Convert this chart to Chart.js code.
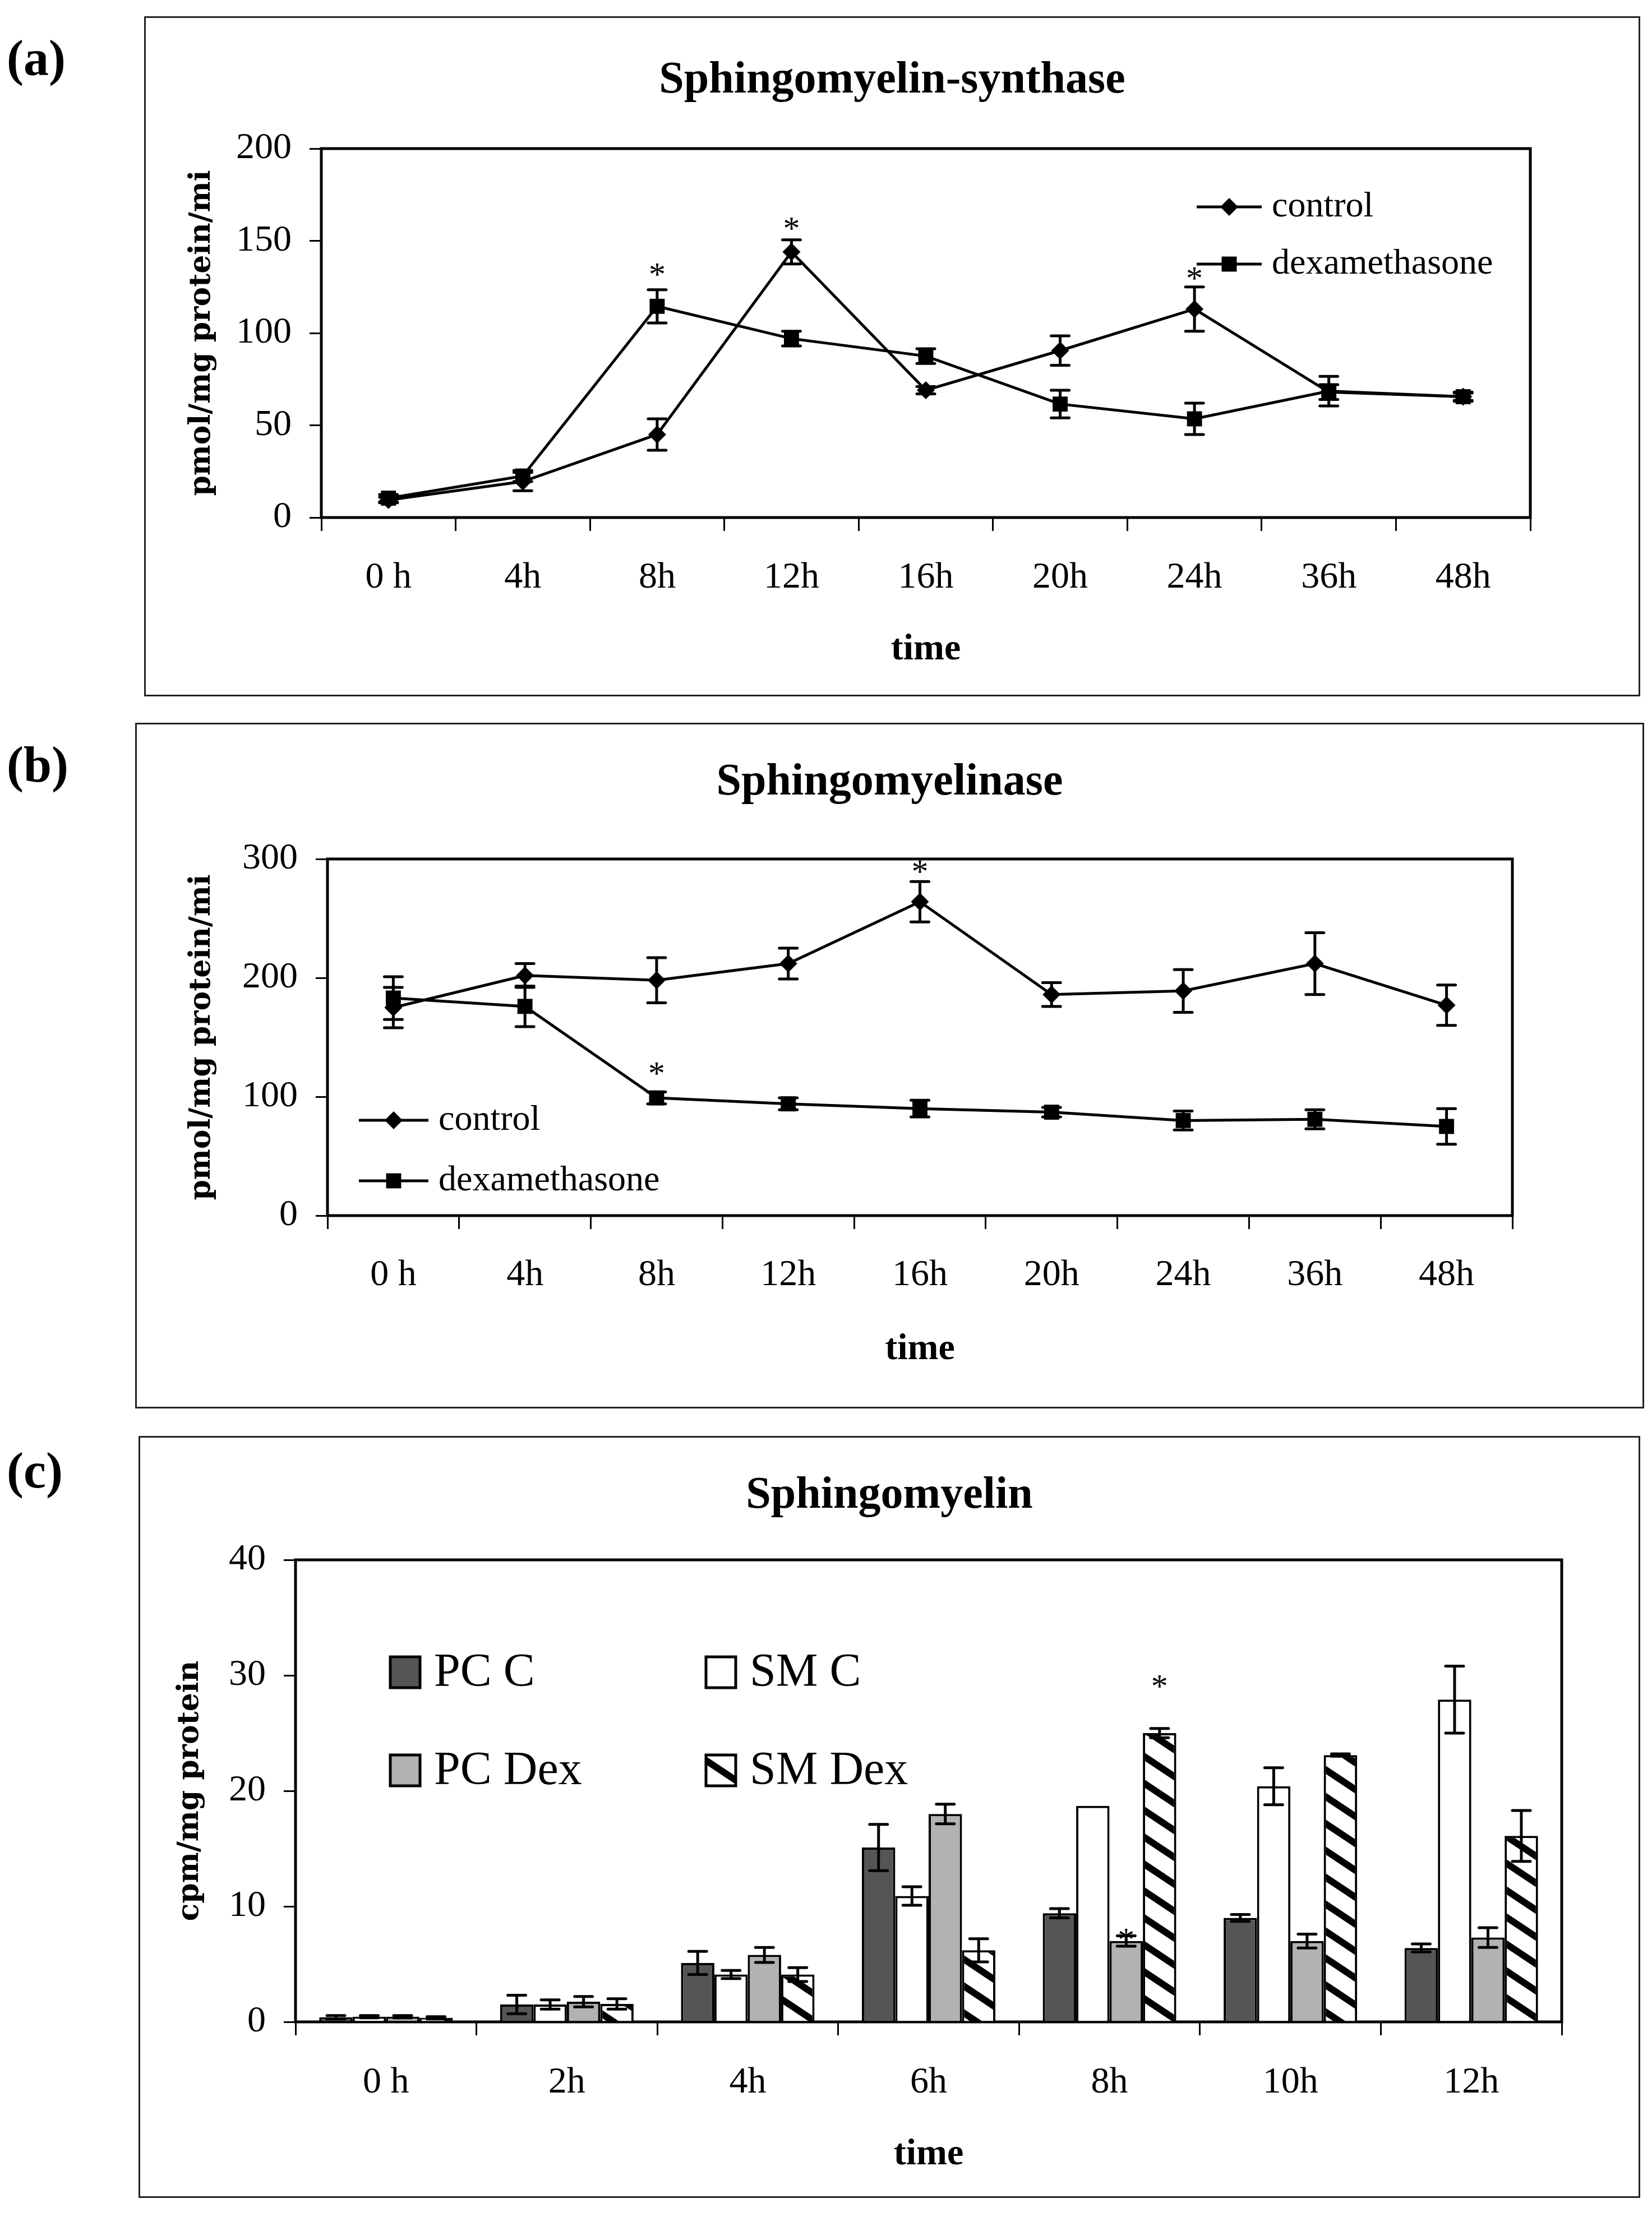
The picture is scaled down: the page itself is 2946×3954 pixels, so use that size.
<!DOCTYPE html>
<html>
<head>
<meta charset="utf-8">
<script src="https://cdn.jsdelivr.net/npm/chart.js@4.4.1/dist/chart.umd.min.js"></script>
<style>
  html, body { margin: 0; padding: 0; background: #fff; }
  body { position: relative; width: 2946px; height: 3954px; overflow: hidden; }
  .frame { position: absolute; border: 3px solid #222; box-sizing: border-box; }
  .frame canvas { position: absolute; left: -3px; top: -3px; }
  .tag { position: absolute; left: 12px; font: bold 90px/1 "Liberation Serif", serif; color: #000; }
</style>
</head>
<body>
<div class="tag" style="top:59px">(a)</div>
<div class="tag" style="top:1319px">(b)</div>
<div class="tag" style="top:2578px">(c)</div>

<div class="frame" style="left:257px;top:29px;width:2668px;height:1213px">
  <canvas id="chartA" width="2668" height="1213"></canvas>
</div>
<div class="frame" style="left:241px;top:1289px;width:2691px;height:1223px">
  <canvas id="chartB" width="2691" height="1223"></canvas>
</div>
<div class="frame" style="left:247px;top:2561px;width:2678px;height:1359px">
  <canvas id="chartC" width="2678" height="1359"></canvas>
</div>

<script>
// (a) sphingomyelin-synthase, pmol/mg protein/min
const hoursLong = ['0 h', '4h', '8h', '12h', '16h', '20h', '24h', '36h', '48h']
const synthControl = [9.5, 19.5, 45, 144, 69, 90.5, 113, 68, 65.5]
const synthControlErr = [1.5, 5, 8.5, 6.5, 2, 8, 12, 4, 2]
const synthDex = [10.5, 22.5, 114.5, 97, 87.5, 61.5, 53.5, 68.5, 65.5]
const synthDexErr = [2, 3, 9, 4, 4, 7.5, 8.5, 8, 2.5]
const synthTicks = [0, 50, 100, 150, 200]
const synthStarCats = ['8h', '12h', '24h']
const synthStarVals = [134, 159, 132]

// (b) sphingomyelinase
const aseControl = [175, 202, 198, 212, 264, 186, 189, 212, 177]
const aseControlErr = [17, 10, 19, 13, 17, 10, 18, 26, 17]
const aseDex = [183, 176, 99, 94, 90, 87, 80, 81, 75]
const aseDexErr = [18, 17, 5, 5, 7, 4, 8, 8, 15]
const aseTicks = [0, 100, 200, 300]
const aseStarCats = ['16h', '8h']
const aseStarVals = [293, 123]

// (c) sphingomyelin, cpm/mg protein
const hoursShort = ['0 h', '2h', '4h', '6h', '8h', '10h', '12h']
const pcC = [0.4, 1.5, 5.1, 15.1, 9.4, 9.0, 6.4]
const pcCErr = [0.15, 0.8, 1.0, 2.0, 0.4, 0.3, 0.35]
const smC = [0.45, 1.5, 4.1, 10.9, 18.7, 20.4, 27.9]
const smCErr = [0.1, 0.4, 0.35, 0.8, 0, 1.6, 2.9]
const pcDex = [0.45, 1.75, 5.8, 18.0, 7.0, 7.0, 7.3]
const pcDexErr = [0.1, 0.45, 0.65, 0.85, 0.45, 0.6, 0.85]
const smDex = [0.35, 1.55, 4.1, 6.2, 25.0, 23.1, 16.1]
const smDexErr = [0.1, 0.45, 0.6, 1.0, 0.4, 0.1, 2.2]
const smTicks = [0, 10, 20, 30, 40]
const smStarCats = ['8h', '8h']
const smStarSets = [3, 2]
const smStarVals = [29.4, 7.5]

const SERIF = '"Liberation Serif", "Times New Roman", serif'
const WIDE = '"DejaVu Serif", serif'

// box around the plot area
const plotFrame = {
  id: 'plotFrame',
  beforeDatasetsDraw(chart) {
    const { ctx, chartArea: a } = chart
    ctx.save()
    ctx.strokeStyle = '#000'
    ctx.lineWidth = 5
    ctx.strokeRect(a.left, a.top, a.right - a.left, a.bottom - a.top)
    ctx.restore()
  }
}

const errorBars = {
  id: 'errorBars',
  afterDatasetsDraw(chart) {
    const { ctx } = chart
    const y = chart.scales.y
    ctx.save()
    ctx.strokeStyle = '#000'
    ctx.lineWidth = 5
    ctx.lineCap = 'round'
    chart.data.datasets.forEach((ds, i) => {
      if (!ds.errors) return
      chart.getDatasetMeta(i).data.forEach((el, j) => {
        const e = ds.errors[j]
        if (!e) return
        const v = ds.data[j]
        const top = y.getPixelForValue(v + e)
        const bot = y.getPixelForValue(Math.max(0, v - e))
        ctx.beginPath()
        ctx.moveTo(el.x, top); ctx.lineTo(el.x, bot)
        ctx.moveTo(el.x - 16, top); ctx.lineTo(el.x + 16, top)
        ctx.moveTo(el.x - 16, bot); ctx.lineTo(el.x + 16, bot)
        ctx.stroke()
      })
    })
    ctx.restore()
  }
}

// significance asterisks
const stars = {
  id: 'stars',
  afterDatasetsDraw(chart, args, opts) {
    if (!opts.cats) return
    const { ctx } = chart
    const x = chart.scales.x, y = chart.scales.y
    ctx.save()
    ctx.fillStyle = '#000'
    ctx.font = '60px ' + SERIF
    ctx.textAlign = 'center'
    ctx.textBaseline = 'alphabetic'
    opts.cats.forEach((c, k) => {
      const idx = chart.data.labels.indexOf(c)
      let px = x.getPixelForValue(idx)
      if (opts.sets) px = chart.getDatasetMeta(opts.sets[k]).data[idx].x
      const py = y.getPixelForValue(opts.values[k])
      ctx.fillText('*', px, py + 27)
    })
    ctx.restore()
  }
}

const keyLegend = {
  id: 'keyLegend',
  afterDraw(chart, args, opts) {
    if (!opts.items) return
    const { ctx } = chart
    ctx.save()
    ctx.textBaseline = 'middle'
    ctx.textAlign = 'left'
    opts.items.forEach(it => {
      const ds = chart.data.datasets[it.dataset]
      if (it.swatch) {
        ctx.fillStyle = ds.backgroundColor
        ctx.fillRect(it.x, it.y, 53, 55)
        ctx.strokeStyle = '#000'
        ctx.lineWidth = 5
        ctx.strokeRect(it.x, it.y, 53, 55)
        ctx.fillStyle = '#000'
        ctx.font = '84px ' + SERIF
        ctx.fillText(ds.label, it.x + 78, it.y + 30)
      } else {
        ctx.strokeStyle = '#000'
        ctx.lineWidth = 5
        ctx.beginPath()
        ctx.moveTo(it.x1, it.y); ctx.lineTo(it.x2, it.y)
        ctx.stroke()
        ctx.fillStyle = '#000'
        Chart.helpers.drawPoint(ctx, {
          pointStyle: ds.pointStyle, radius: ds.pointRadius, rotation: 0, borderWidth: 0
        }, (it.x1 + it.x2) / 2, it.y)
        ctx.fillStyle = '#000'
        ctx.font = '64px ' + SERIF
        ctx.fillText(ds.label, it.x2 + 18, it.y)
      }
    })
    ctx.restore()
  }
}

function axes(p) {
  return {
    x: {
      offset: true,
      grid: { display: true, offset: true, drawOnChartArea: false, drawTicks: true, tickLength: 24, color: '#000', lineWidth: 3 },
      border: { display: false },
      ticks: { color: '#000', padding: p.xPad, maxRotation: 0, autoSkip: false, font: { family: SERIF, size: 66 } },
      title: { display: true, text: 'time', color: '#000', font: { family: SERIF, size: 66, weight: 'bold' }, padding: { top: 0, bottom: p.xTitlePad } },
      afterFit: s => { s.height = p.xH }
    },
    y: {
      min: p.ticks[0],
      max: p.ticks[p.ticks.length - 1],
      afterBuildTicks: s => { s.ticks = p.ticks.map(v => ({ value: v })) },
      grid: { display: true, drawOnChartArea: false, drawTicks: true, tickLength: 21, color: '#000', lineWidth: 3 },
      border: { display: false },
      ticks: { color: '#000', padding: 32, font: { family: SERIF, size: 66 } },
      title: { display: true, text: p.yTitle, color: '#000', font: { family: WIDE, size: 52, weight: 'bold' }, padding: { top: p.yTitlePad, bottom: 0 } },
      afterFit: s => { s.width = p.yW }
    },
    // empty right margin, so the title stays centred on the whole panel
    yRight: {
      type: 'linear',
      position: 'right',
      grid: { display: false },
      ticks: { display: false },
      border: { display: false },
      afterFit: s => { s.width = p.padR }
    }
  }
}

function lineSet(label, data, errors, style, radius) {
  return {
    label, data, errors,
    borderColor: '#000', backgroundColor: '#000', borderWidth: 5,
    pointStyle: style, pointRadius: radius, pointBackgroundColor: '#000',
    pointBorderWidth: 0, tension: 0, fill: false
  }
}

function baseOptions(p) {
  return {
    responsive: false,
    animation: false,
    devicePixelRatio: 1,
    layout: { padding: 0 },
    scales: axes(p),
    plugins: {
      legend: { display: false },
      tooltip: { enabled: false },
      title: {
        display: true, text: p.title, color: '#000',
        font: { family: SERIF, size: 80, weight: 'bold' },
        padding: { top: p.tTop, bottom: p.tBottom }
      },
      stars: p.stars,
      keyLegend: { items: p.legend }
    }
  }
}

const plugins = [plotFrame, errorBars, stars, keyLegend]

new Chart(document.getElementById('chartA'), {
  type: 'line',
  data: {
    labels: hoursLong,
    datasets: [
      lineSet('control', synthControl, synthControlErr, 'rectRot', 16),
      lineSet('dexamethasone', synthDex, synthDexErr, 'rect', 19)
    ]
  },
  options: baseOptions({
    title: 'Sphingomyelin-synthase', tTop: 67, tBottom: 73, padR: 196,
    yW: 316, yTitlePad: 72, yTitle: 'pmol/mg protein/mi', ticks: synthTicks,
    xH: 319, xPad: 44, xTitlePad: 43,
    stars: { cats: synthStarCats, values: synthStarVals },
    legend: [
      { dataset: 0, x1: 1877, x2: 1993, y: 340 },
      { dataset: 1, x1: 1877, x2: 1993, y: 442 }
    ]
  }),
  plugins
})

new Chart(document.getElementById('chartB'), {
  type: 'line',
  data: {
    labels: hoursLong,
    datasets: [
      lineSet('control', aseControl, aseControlErr, 'rectRot', 16),
      lineSet('dexamethasone', aseDex, aseDexErr, 'rect', 19)
    ]
  },
  options: baseOptions({
    title: 'Sphingomyelinase', tTop: 59, tBottom: 88, padR: 235,
    yW: 343, yTitlePad: 88, yTitle: 'pmol/mg protein/mi', ticks: aseTicks,
    xH: 344, xPad: 43, xTitlePad: 65,
    stars: { cats: aseStarCats, values: aseStarVals },
    legend: [
      { dataset: 0, x1: 399, x2: 523, y: 709 },
      { dataset: 1, x1: 399, x2: 523, y: 817 }
    ]
  }),
  plugins
})

// diagonal hatch for SM Dex
function hatch() {
  const c = document.createElement('canvas')
  c.width = 72
  c.height = 48
  const g = c.getContext('2d')
  g.fillStyle = '#fff'
  g.fillRect(0, 0, 72, 48)
  g.strokeStyle = '#000'
  g.lineWidth = 12
  g.beginPath()
  for (let k = -2; k <= 2; k++) {
    g.moveTo(-20, k * 48 - 20 * 48 / 72)
    g.lineTo(92, k * 48 + 92 * 48 / 72)
  }
  g.stroke()
  return document.getElementById('chartC').getContext('2d').createPattern(c, 'repeat')
}

function barSet(label, data, errors, fill) {
  return {
    label, data, errors,
    backgroundColor: fill, borderColor: '#000', borderWidth: 4,
    categoryPercentage: 0.738, barPercentage: 1.0
  }
}

new Chart(document.getElementById('chartC'), {
  type: 'bar',
  data: {
    labels: hoursShort,
    datasets: [
      barSet('PC C', pcC, pcCErr, '#555555'),
      barSet('SM C', smC, smCErr, '#ffffff'),
      barSet('PC Dex', pcDex, pcDexErr, '#b2b2b2'),
      barSet('SM Dex', smDex, smDexErr, hatch())
    ]
  },
  options: baseOptions({
    title: 'Sphingomyelin', tTop: 59, tBottom: 66, padR: 140,
    yW: 280, yTitlePad: 61, yTitle: 'cpm/mg protein', ticks: smTicks,
    xH: 314, xPad: 45, xTitlePad: 37,
    stars: { cats: smStarCats, sets: smStarSets, values: smStarVals },
    legend: [
      { dataset: 0, swatch: true, x: 449, y: 394 },
      { dataset: 1, swatch: true, x: 1012, y: 394 },
      { dataset: 2, swatch: true, x: 449, y: 569 },
      { dataset: 3, swatch: true, x: 1012, y: 569 }
    ]
  }),
  plugins
})
</script>
</body>
</html>
